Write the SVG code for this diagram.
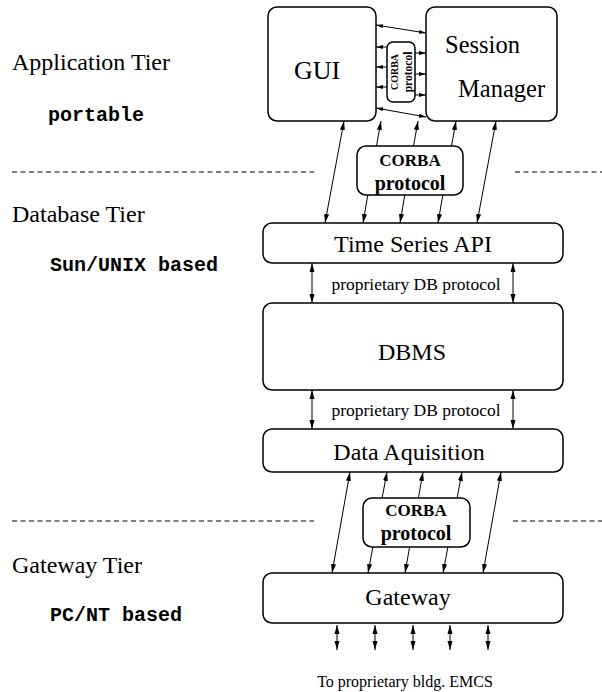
<svg xmlns="http://www.w3.org/2000/svg" width="602" height="692" viewBox="0 0 602 692">
<style>
.box{fill:#fff;stroke:#000;stroke-width:1.5}
.t{font-family:"Liberation Serif","Times New Roman",serif;fill:#000}
.m{font-family:"Liberation Mono","Courier New",monospace;font-weight:bold;fill:#000}
.b{font-family:"Liberation Serif","Times New Roman",serif;font-weight:bold;fill:#000}
.c{stroke:#000;stroke-width:1;fill:none}
.d{stroke:#000;stroke-width:1.2;stroke-dasharray:5 3.5;fill:none}
.a2{marker-start:url(#ah);marker-end:url(#ah)}
.a1{marker-end:url(#ah)}
.s1{marker-end:url(#ahs)}
.s2{marker-start:url(#ahs);marker-end:url(#ahs)}
</style>
<defs>
<marker id="ah" viewBox="0 0 9 6" refX="9" refY="3" markerWidth="9" markerHeight="6" markerUnits="userSpaceOnUse" orient="auto-start-reverse"><path d="M0,0.5 L9,3 L0,5.5 z" fill="#000"/></marker>
<marker id="ahs" viewBox="0 0 7 5" refX="7" refY="2.5" markerWidth="7" markerHeight="5" markerUnits="userSpaceOnUse" orient="auto-start-reverse"><path d="M0,0.5 L7,2.5 L0,4.5 z" fill="#000"/></marker>
</defs>

<g id="tier-labels">
<text class="t" x="12" y="70" font-size="24">Application Tier</text>
<text class="m" x="48" y="121" font-size="20">portable</text>
<text class="t" x="12" y="222" font-size="24">Database Tier</text>
<text class="m" x="50" y="271" font-size="20">Sun/UNIX based</text>
<text class="t" x="12" y="573" font-size="24">Gateway Tier</text>
<text class="m" x="50" y="621" font-size="20">PC/NT based</text>
<line class="d" x1="12" y1="172" x2="314" y2="172"/>
<line class="d" x1="515" y1="172" x2="602" y2="172"/>
<line class="d" x1="12" y1="521" x2="314" y2="521"/>
<line class="d" x1="513" y1="521" x2="602" y2="521"/>
</g>

<g id="gui">
<rect class="box" x="268" y="7" width="108" height="114" rx="9"/>
<text class="t" x="317" y="79" font-size="26" text-anchor="middle">GUI</text>
</g>

<g id="session-manager">
<rect class="box" x="426" y="7" width="131" height="114" rx="9"/>
<text class="t" x="445" y="53" font-size="24.5">Session</text>
<text class="t" x="458" y="97" font-size="24.5">Manager</text>
</g>

<g id="corba-app">
<rect class="box" x="387" y="42" width="28" height="60" rx="6" stroke-width="1.2"/>
<g transform="translate(401,72) rotate(-90)">
<text class="b" x="0" y="-3" font-size="10" text-anchor="middle">CORBA</text>
<text class="b" x="0" y="11" font-size="11.5" text-anchor="middle">protocol</text>
</g>
</g>

<g id="corba-db">
<rect class="box" x="357" y="146" width="106" height="49" rx="9"/>
<text class="b" x="410" y="166" font-size="17" text-anchor="middle">CORBA</text>
<text class="b" x="410" y="190" font-size="20" text-anchor="middle">protocol</text>
</g>

<g id="time-series-api">
<rect class="box" x="263" y="223" width="300" height="40" rx="9"/>
<text class="t" x="413" y="252" font-size="24" text-anchor="middle">Time Series API</text>
</g>

<g id="dbms">
<rect class="box" x="263" y="303" width="300" height="87" rx="9"/>
<text class="t" x="412" y="360" font-size="24" text-anchor="middle">DBMS</text>
</g>

<g id="data-aquisition">
<rect class="box" x="263" y="429" width="300" height="43" rx="9"/>
<text class="t" x="409" y="460" font-size="24" text-anchor="middle">Data Aquisition</text>
</g>

<g id="corba-gw">
<rect class="box" x="363" y="498" width="107" height="49" rx="9"/>
<text class="b" x="416" y="516" font-size="17" text-anchor="middle">CORBA</text>
<text class="b" x="416" y="540" font-size="20" text-anchor="middle">protocol</text>
</g>

<g id="gateway">
<rect class="box" x="263" y="573" width="300" height="50" rx="9"/>
<text class="t" x="408" y="605" font-size="24" text-anchor="middle">Gateway</text>
</g>

<g id="emcs">
<text class="t" x="405" y="687" font-size="16" text-anchor="middle">To proprietary bldg. EMCS</text>
</g>

<g id="connectors">
<!-- GUI <-> Session Manager -->
<line class="c s2" x1="376" y1="25" x2="426" y2="33"/>
<line class="c s2" x1="376" y1="108" x2="426" y2="117"/>
<line class="c s1" x1="387" y1="47" x2="376" y2="47"/>
<line class="c s1" x1="387" y1="67" x2="376" y2="67"/>
<line class="c s1" x1="387" y1="87" x2="376" y2="87"/>
<line class="c s1" x1="415" y1="53" x2="426" y2="53"/>
<line class="c s1" x1="415" y1="74" x2="426" y2="74"/>
<line class="c s1" x1="415" y1="95" x2="426" y2="95"/>
<!-- Application tier <-> Time Series API -->
<line class="c a2" x1="344" y1="121" x2="325" y2="223"/>
<line class="c a1" x1="376.5" y1="146" x2="381" y2="121"/>
<line class="c a1" x1="367.8" y1="195" x2="363" y2="223"/>
<line class="c a1" x1="413.5" y1="146" x2="418" y2="121"/>
<line class="c a1" x1="404.8" y1="195" x2="400" y2="223"/>
<line class="c a1" x1="451.5" y1="146" x2="456" y2="121"/>
<line class="c a1" x1="442.8" y1="195" x2="438" y2="223"/>
<line class="c a2" x1="496" y1="121" x2="477" y2="223"/>
<!-- Time Series API <-> DBMS -->
<line class="c a2" x1="312" y1="263" x2="312" y2="303"/>
<line class="c a2" x1="513" y1="263" x2="513" y2="303"/>
<text class="t" x="416" y="290" font-size="17.5" text-anchor="middle">proprietary DB protocol</text>
<!-- DBMS <-> Data Aquisition -->
<line class="c a2" x1="312" y1="390" x2="312" y2="429"/>
<line class="c a2" x1="513" y1="390" x2="513" y2="429"/>
<text class="t" x="416" y="416" font-size="17.5" text-anchor="middle">proprietary DB protocol</text>
<!-- Data Aquisition <-> Gateway -->
<line class="c a2" x1="350" y1="472" x2="332" y2="573"/>
<line class="c a1" x1="382.1" y1="498" x2="387" y2="472"/>
<line class="c a1" x1="372.9" y1="547" x2="368" y2="573"/>
<line class="c a1" x1="418.4" y1="498" x2="423" y2="472"/>
<line class="c a1" x1="409.6" y1="547" x2="405" y2="573"/>
<line class="c a1" x1="457.1" y1="498" x2="462" y2="472"/>
<line class="c a1" x1="447.9" y1="547" x2="443" y2="573"/>
<line class="c a2" x1="501" y1="472" x2="483" y2="573"/>
<!-- Gateway <-> EMCS -->
<line class="c a2" x1="337" y1="625" x2="337" y2="650"/>
<line class="c a2" x1="375" y1="625" x2="375" y2="650"/>
<line class="c a2" x1="413" y1="625" x2="413" y2="650"/>
<line class="c a2" x1="450" y1="625" x2="450" y2="650"/>
<line class="c a2" x1="488" y1="625" x2="488" y2="650"/>
</g>
</svg>
